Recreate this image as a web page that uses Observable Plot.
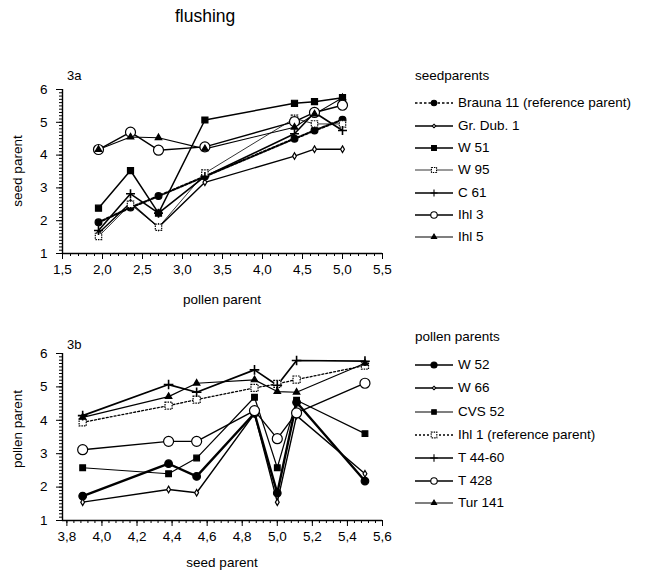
<!DOCTYPE html>
<html><head><meta charset="utf-8">
<script src="https://cdn.jsdelivr.net/npm/d3@7"></script>
<script src="https://cdn.jsdelivr.net/npm/@observablehq/plot@0.6"></script>
<style>
body{margin:0;background:#fff;font-family:"Liberation Sans",Arial,sans-serif;}
#root{position:relative;width:657px;height:571px;overflow:hidden;background:#fff}
.abs{position:absolute;white-space:nowrap;color:#000;line-height:1}
.panel{position:absolute;left:0}
</style></head><body><div id="root"></div>
<script>
// ---------- DATA ----------
const title = "flushing";

// Panel 3a
const xPollen = [1.95, 2.35, 2.7, 3.28, 4.4, 4.65, 5.0];
const seedParents = ["Brauna 11 (reference parent)", "Gr. Dub. 1", "W 51", "W 95", "C 61", "Ihl 3", "Ihl 5"];
const brauna11 = [1.95, 2.4, 2.75, 3.35, 4.5, 4.75, 5.08];
const grDub1   = [1.62, 2.55, 1.8, 3.17, 3.97, 4.18, 4.18];
const w51      = [2.38, 3.53, 2.23, 5.07, 5.58, 5.63, 5.75];
const w95      = [1.52, 2.5, 1.8, 3.45, 5.12, 4.95, 4.95];
const c61      = [1.7, 2.82, 2.23, 3.35, 4.65, 5.3, 4.75];
const ihl3     = [4.17, 4.7, 4.15, 4.25, 5.02, 5.3, 5.52];
const ihl5     = [4.17, 4.55, 4.53, 4.19, 4.85, 5.25, 5.75];
const xTicksA = [1.5, 2.0, 2.5, 3.0, 3.5, 4.0, 4.5, 5.0, 5.5];

// Panel 3b
const xSeed = [3.89, 4.38, 4.54, 4.87, 5.0, 5.11, 5.5];
const pollenParents = ["W 52", "W 66", "CVS 52", "Ihl 1 (reference parent)", "T 44-60", "T 428", "Tur 141"];
const w52    = [1.73, 2.7, 2.32, 4.21, 1.82, 4.54, 2.18];
const w66    = [1.55, 1.93, 1.83, 4.2, 1.55, 4.14, 2.4];
const cvs52  = [2.58, 2.4, 2.87, 4.69, 2.58, 4.6, 3.6];
const ihl1   = [3.94, 4.44, 4.62, 4.97, 5.09, 5.22, 5.64];
const t4460  = [4.14, 5.07, 4.84, 5.51, 5.05, 5.79, 5.77];
const t428   = [3.12, 3.37, 3.37, 4.29, 3.45, 4.22, 5.11];
const tur141 = [4.09, 4.71, 5.11, 5.21, 4.86, 4.84, 5.71];
const xTicksB = [3.8, 4.0, 4.2, 4.4, 4.6, 4.8, 5.0, 5.2, 5.4, 5.6];

const yTicks = [1, 2, 3, 4, 5, 6];

// ---------- STYLES ----------
const stylesA = [
  {dash: "2.5,2", lw: 2.2, sym: "circle", fill: "black", r: 3.4},
  {dash: null, lw: 1.4, sym: "diamond", fill: "white", r: 2.0},
  {dash: null, lw: 1.5, sym: "square", fill: "black", r: 3.4},
  {dash: null, lw: 0.8, sym: "square", fill: "white", r: 3.6, symDash: "1.5,1"},
  {dash: null, lw: 1.6, sym: "plus", fill: "none", r: 3.0},
  {dash: null, lw: 1.4, sym: "circle", fill: "white", r: 5},
  {dash: null, lw: 1.1, sym: "triangle", fill: "black", r: 2.4}
];
const stylesB = [
  {dash: null, lw: 2.4, sym: "circle", fill: "black", r: 3.8},
  {dash: null, lw: 1.4, sym: "diamond", fill: "white", r: 2.0},
  {dash: null, lw: 1.2, sym: "square", fill: "black", r: 3.2},
  {dash: "2,2", lw: 1.3, sym: "square", fill: "white", r: 4.0, symDash: "1.5,1"},
  {dash: null, lw: 1.7, sym: "plus", fill: "none", r: 3.2},
  {dash: null, lw: 1.4, sym: "circle", fill: "white", r: 5},
  {dash: null, lw: 1.2, sym: "triangle", fill: "black", r: 2.4}
];

const root = document.getElementById("root");
function addText(txt, left, top, size, extra) {
  const d = document.createElement("div");
  d.className = "abs";
  d.textContent = txt;
  d.style.left = left + "px";
  d.style.top = top + "px";
  d.style.fontSize = size + "px";
  if (extra) Object.assign(d.style, extra);
  root.appendChild(d);
  return d;
}

const fmt = d => d.toFixed(1).replace(".", ",");
function rangeStep(a, b, s) {
  const n = Math.round((b - a) / s);
  return d3.range(n + 1).map(i => +(a + i * s).toFixed(4));
}

const symMap = {circle: d3.symbolCircle, diamond: d3.symbolDiamond2, square: d3.symbolSquare, plus: d3.symbolPlus, triangle: d3.symbolTriangle};

function makePanel(xVals, names, values, styles, xDomain, xTicks, xMinorStep, top, marginTop, plotH) {
  const marks = [
    Plot.axisY({ticks: rangeStep(1, 6, 0.1), tickSize: 3, tickFormat: () => "", label: null}),
    Plot.axisY({ticks: yTicks, tickSize: 6, tickPadding: 9, tickFormat: d => String(d), label: null}),
    Plot.axisX({ticks: rangeStep(xTicks[0], xTicks[xTicks.length - 1], xMinorStep), tickSize: 3, tickFormat: () => "", label: null}),
    Plot.axisX({ticks: xTicks, tickSize: 6, tickPadding: 5, tickFormat: fmt, label: null}),
    Plot.ruleX([xDomain[0]], {strokeWidth: 1.4}),
    Plot.ruleY([1], {strokeWidth: 1.4})
  ];
  names.forEach((name, i) => {
    const st = styles[i];
    const data = xVals.map((x, j) => ({x, y: values[i][j]}));
    marks.push(Plot.line(data, {x: "x", y: "y", stroke: "black", strokeWidth: st.lw, strokeDasharray: st.dash || undefined}));
  });
  names.forEach((name, i) => {
    const st = styles[i];
    const data = xVals.map((x, j) => ({x, y: values[i][j]}));
    marks.push(Plot.dot(data, {x: "x", y: "y", symbol: st.sym, r: st.r, fill: st.fill, stroke: "black",
      strokeWidth: st.sym === "plus" ? 1.6 : 1.2, strokeDasharray: st.symDash || undefined}));
  });
  const plot = Plot.plot({
    width: 400, height: marginTop + plotH + 30,
    marginLeft: 62, marginRight: 18, marginTop, marginBottom: 30,
    style: {fontFamily: "'Liberation Sans', Arial, sans-serif", fontSize: "13.5px", color: "black", background: "transparent", overflow: "visible"},
    x: {domain: xDomain}, y: {domain: [1, 6]},
    marks
  });
  plot.classList.add("panel");
  plot.style.top = top + "px";
  root.appendChild(plot);
}

function legend(heading, names, styles, left, headTop, rowTops) {
  addText(heading, left, headTop, 13.5);
  names.forEach((name, i) => {
    const st = styles[i];
    const row = document.createElement("div");
    row.className = "abs";
    row.style.left = left + "px";
    row.style.top = (rowTops[i] - 8) + "px";
    row.style.display = "flex";
    row.style.alignItems = "center";
    const svg = d3.create("svg").attr("width", 40).attr("height", 16);
    svg.append("line").attr("x1", 0).attr("x2", 38).attr("y1", 8).attr("y2", 8)
      .attr("stroke", "black").attr("stroke-width", Math.min(st.lw, 1.5)).attr("stroke-dasharray", st.dash || null);
    const rr = st.sym === "circle" && st.fill === "white" ? st.r * 0.65 : st.r * 0.8;
    svg.append("path").attr("transform", "translate(19,8)")
      .attr("d", d3.symbol(symMap[st.sym], Math.PI * rr * rr)())
      .attr("fill", st.fill).attr("stroke", "black").attr("stroke-width", 1.1)
      .attr("stroke-dasharray", st.symDash || null);
    row.appendChild(svg.node());
    const sp = document.createElement("span");
    sp.textContent = name;
    sp.style.fontSize = "13.5px";
    sp.style.marginLeft = "3px";
    row.appendChild(sp);
    root.appendChild(row);
  });
}

// ---------- BUILD ----------
addText(title, 175, 8, 17.5);

// Panel 3a
makePanel(xPollen, seedParents, [brauna11, grDub1, w51, w95, c61, ihl3, ihl5], stylesA,
  [1.5, 5.5], xTicksA, 0.1, 60, 29, 164);
addText("3a", 67, 69, 13);
addText("seed parent", 18, 171, 13.5, {transform: "translate(-50%,-50%) rotate(-90deg)"});
addText("pollen parent", 222, 300, 13.5, {transform: "translate(-50%,-50%)"});
legend("seedparents", seedParents, stylesA, 415, 69, [103, 126, 148, 170, 193, 215, 237]);

// Panel 3b
makePanel(xSeed, pollenParents, [w52, w66, cvs52, ihl1, t4460, t428, tur141], stylesB,
  [3.775, 5.6], xTicksB, 0.04, 330, 23, 167);
addText("3b", 67, 338, 13);
addText("pollen parent", 18, 429, 13.5, {transform: "translate(-50%,-50%) rotate(-90deg)"});
addText("seed parent", 222, 563, 13.5, {transform: "translate(-50%,-50%)"});
legend("pollen parents", pollenParents, stylesB, 415, 330, [365, 388, 412, 435, 458, 481, 503]);
</script></body></html>
